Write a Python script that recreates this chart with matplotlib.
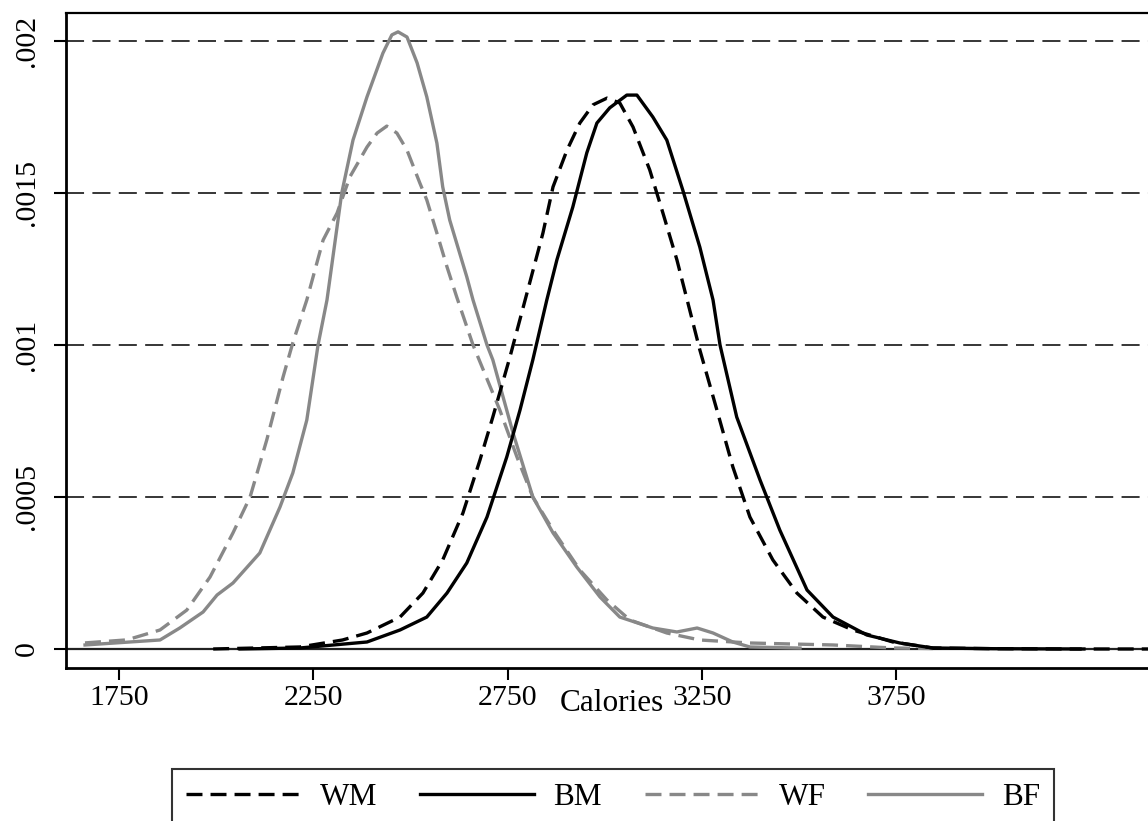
import matplotlib.pyplot as plt

# Kernel density of daily calories by group
wm_x = [1992, 2215, 2325, 2388, 2473, 2532, 2583, 2635, 2679, 2712, 2756, 2800, 2841, 2867,
        2903, 2936, 2970, 3006, 3039, 3073, 3116, 3150, 3186, 3219, 3245, 3289, 3330, 3374,
        3433, 3495, 3562, 3639, 3742, 3845, 4000, 4200, 4450]
wm_y = [0.0, 0.0000066, 0.0000296, 0.0000526, 0.000105, 0.000184, 0.000293, 0.000447,
        0.000622, 0.000763, 0.00096, 0.001171, 0.001368, 0.00152, 0.001641, 0.00173,
        0.00179, 0.001812, 0.001796, 0.001717, 0.001576, 0.001434, 0.00128, 0.001115,
        0.000984, 0.000786, 0.000599, 0.000434, 0.000293, 0.000184, 0.000105, 0.0000625,
        0.000023, 0.0000033, 0.0000010, 0.0, 0.0]

bm_x = [2061, 2215, 2388, 2473, 2542, 2594, 2645, 2697, 2748, 2782, 2815, 2851, 2877, 2918,
        2954, 2980, 3013, 3057, 3083, 3124, 3160, 3201, 3245, 3279, 3297, 3340, 3400, 3451,
        3521, 3588, 3675, 3760, 3845, 4000, 4224]
bm_y = [0.0, 0.0000033, 0.000023, 0.0000625, 0.000105, 0.000184, 0.000283, 0.000434,
        0.000632, 0.000786, 0.000951, 0.001148, 0.00128, 0.001454, 0.001632, 0.00173,
        0.00178, 0.001822, 0.001822, 0.00175, 0.001674, 0.00151, 0.001322, 0.001148, 0.001,
        0.000763, 0.000556, 0.000391, 0.000194, 0.000105, 0.000046, 0.0000197, 0.0000033,
        0.0000010, 0.0]

wf_x = [1662, 1770, 1855, 1924, 1984, 2043, 2087, 2130, 2172, 2197, 2233, 2275, 2311, 2344,
        2388, 2414, 2439, 2465, 2491, 2524, 2542, 2568, 2594, 2619, 2661, 2730, 2774, 2815,
        2867, 2936, 3006, 3065, 3160, 3245, 3374, 3588, 3742, 3845]
wf_y = [0.00002, 0.00003, 0.0000625, 0.000128, 0.000237, 0.000382, 0.0005, 0.000688,
        0.000895, 0.001007, 0.001148, 0.001345, 0.001434, 0.001553, 0.001651, 0.001697,
        0.00172, 0.001697, 0.001641, 0.001533, 0.001477, 0.001368, 0.001257, 0.001158,
        0.001, 0.000786, 0.000632, 0.0005, 0.000391, 0.00026, 0.000161, 0.0000954,
        0.0000526, 0.0000296, 0.0000197, 0.0000132, 0.0000033, 0.0000016]

bf_x = [1662, 1855, 1906, 1966, 2002, 2043, 2112, 2164, 2197, 2233, 2262, 2285, 2323, 2352,
        2388, 2429, 2452, 2468, 2491, 2517, 2542, 2568, 2583, 2601, 2645, 2661, 2697, 2712,
        2764, 2815, 2867, 2928, 2988, 3039, 3124, 3186, 3238, 3279, 3330, 3374, 3503]
bf_y = [0.0000132, 0.0000296, 0.0000691, 0.0001217, 0.0001776, 0.0002171, 0.0003158,
        0.000467, 0.000579, 0.000753, 0.001, 0.001148, 0.0015, 0.001674, 0.001816, 0.00196,
        0.00202, 0.00203, 0.002013, 0.001928, 0.001816, 0.001664, 0.00152, 0.001411,
        0.001224, 0.001148, 0.001, 0.000951, 0.000711, 0.0005, 0.000382, 0.00027, 0.000171,
        0.000105, 0.000069, 0.000056, 0.000069, 0.0000526, 0.000023, 0.0000066, 0.000003]

x_ticks = [1750, 2250, 2750, 3250, 3750]
y_ticks = [0, 0.0005, 0.001, 0.0015, 0.002]
y_tick_labels = ["0", ".0005", ".001", ".0015", ".002"]

plt.rcParams["font.family"] = ["Liberation Serif", "DejaVu Serif"]
plt.rcParams["font.size"] = 21.5
plt.rcParams["lines.scale_dashes"] = False

gray = "#888888"

fig = plt.figure(figsize=(11.48, 8.21), dpi=100)
ax = fig.add_axes([66 / 1148, 1 - 667.5 / 821, 1 - 66 / 1148, (667.5 - 13) / 821])

# dashed reference lines at the non-zero ticks, solid line at zero
for yv in y_ticks[1:]:
    ax.axhline(yv, color="black", lw=1.1, dashes=(13, 6), zorder=1)
ax.axhline(0, color="#222222", lw=1.6, zorder=1.5)

ax.plot(wm_x, wm_y, color="black", lw=2.4, dashes=(11.5, 5.8), label="WM", zorder=3)
ax.plot(bm_x, bm_y, color="black", lw=2.4, label="BM", zorder=3)
ax.plot(wf_x, wf_y, color=gray, lw=2.4, dashes=(11.5, 5.8), label="WF", zorder=2)
ax.plot(bf_x, bf_y, color=gray, lw=2.4, label="BF", zorder=2)

ax.set_xlim(1613, 4399)
ax.set_ylim(-0.0000609, 0.002092)
ax.set_xticks(x_ticks)
ax.set_xticklabels([str(v) for v in x_ticks])
ax.set_yticks(y_ticks)
ax.set_yticklabels(y_tick_labels, rotation=90, va="center")
ax.tick_params(axis="both", length=8.6, width=1.5, color="black")
ax.tick_params(axis="x", pad=4)
ax.tick_params(axis="y", pad=10)
ax.set_xlabel("Calories", fontsize=22.5)
ax.xaxis.set_label_coords((612 - 66) / 1082, -(689 - 667.5) / 654.5)

for side in ["left", "bottom"]:
    ax.spines[side].set_linewidth(2.0)
ax.spines["top"].set_linewidth(1.6)
ax.spines["right"].set_visible(False)

handles, labels = ax.get_legend_handles_labels()
leg = fig.legend(handles, labels, ncol=4, loc="upper center",
                 bbox_to_anchor=(613 / 1148, 1 - 769 / 821),
                 frameon=True, fancybox=False, edgecolor="black", fontsize=22.5,
                 handlelength=3.65, handletextpad=0.64, columnspacing=1.36,
                 borderpad=0.45, borderaxespad=0)
leg.get_frame().set_linewidth(1.5)

plt.savefig("out.png", dpi=100)
